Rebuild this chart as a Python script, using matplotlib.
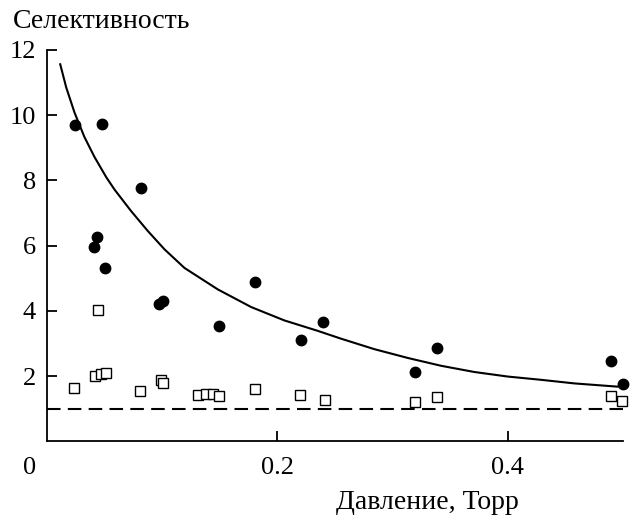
import matplotlib
matplotlib.use("Agg")
import matplotlib.pyplot as plt

plt.rcParams["font.family"] = ["Liberation Serif", "DejaVu Serif"]

# Селективность (заполненные кружки)
p_sel = [0.025, 0.048, 0.082, 0.044, 0.041, 0.051, 0.098, 0.101, 0.150, 0.181,
         0.221, 0.240, 0.320, 0.339, 0.490, 0.500]
s_sel = [9.70, 9.72, 7.78, 6.27, 5.97, 5.31, 4.22, 4.30, 3.53, 4.89,
         3.10, 3.66, 2.13, 2.88, 2.47, 1.77]

# Открытые квадраты
p_sq = [0.0237, 0.0446, 0.042, 0.047, 0.0515, 0.0815, 0.099, 0.101, 0.131, 0.138,
        0.1445, 0.150, 0.181, 0.220, 0.2416, 0.320, 0.339, 0.490, 0.499]
s_sq = [1.64, 4.02, 2.01, 2.07, 2.09, 1.54, 1.87, 1.78, 1.42, 1.44,
        1.44, 1.40, 1.60, 1.42, 1.26, 1.20, 1.36, 1.38, 1.24]

# Аппроксимирующая кривая
p_fit = [0.0119, 0.0171, 0.0243, 0.0329, 0.0416, 0.0518, 0.059, 0.0734, 0.0879,
         0.1023, 0.1196, 0.1486, 0.1775, 0.2063, 0.2353, 0.2555, 0.2843, 0.3133,
         0.3422, 0.371, 0.40, 0.4289, 0.4577, 0.4954]
s_fit = [11.56, 10.85, 10.08, 9.33, 8.72, 8.10, 7.72, 7.06, 6.45,
         5.89, 5.32, 4.66, 4.12, 3.71, 3.39, 3.15, 2.83, 2.56,
         2.32, 2.13, 1.99, 1.89, 1.78, 1.68]

# уровень селективности 1
base_p = [0.0, 0.5]
base_s = [1.0, 1.0]

fig = plt.figure(figsize=(6.3, 5.2), dpi=100)
ax = fig.add_axes([46.5 / 630, 0.151, (623 - 46.5) / 630, 0.753])

ax.plot(p_fit, s_fit, color="black", lw=1.5, solid_joinstyle="round", zorder=2)
ax.plot(base_p, base_s, color="black", lw=1.5, dashes=(6.5, 3.5), zorder=1)
ax.plot(p_sel, s_sel, "o", color="black", ms=7.5, zorder=3, clip_on=False)
ax.plot(p_sq, s_sq, "s", mfc="white", mec="black", mew=1.0, ms=6.5, zorder=3,
        clip_on=False)

ax.set_xlim(0, 0.5)
ax.set_ylim(0, 12)
ax.set_xticks([0.2, 0.4])
ax.set_xticklabels(["0.2", "0.4"])
ax.set_yticks([2, 4, 6, 8, 10, 12])

for side in ["top", "right"]:
    ax.spines[side].set_visible(False)
for side in ["left", "bottom"]:
    ax.spines[side].set_linewidth(1.3)

ax.tick_params(axis="both", direction="in", length=7, width=1.3, labelsize=19)
ax.tick_params(axis="x", pad=11)
ax.tick_params(axis="y", pad=7.5)

ax.annotate("0", xy=(0, 0), xycoords="axes fraction", xytext=(-12, -11.5),
            textcoords="offset points", ha="center", va="top", fontsize=19)

fig.text(13 / 630, 1 - 28 / 520, "Селективность", fontsize=20, ha="left", va="baseline")
fig.text(427 / 630, 11 / 520, "Давление, Торр", fontsize=20, ha="center", va="baseline")

fig.savefig("out.png", dpi=100)
